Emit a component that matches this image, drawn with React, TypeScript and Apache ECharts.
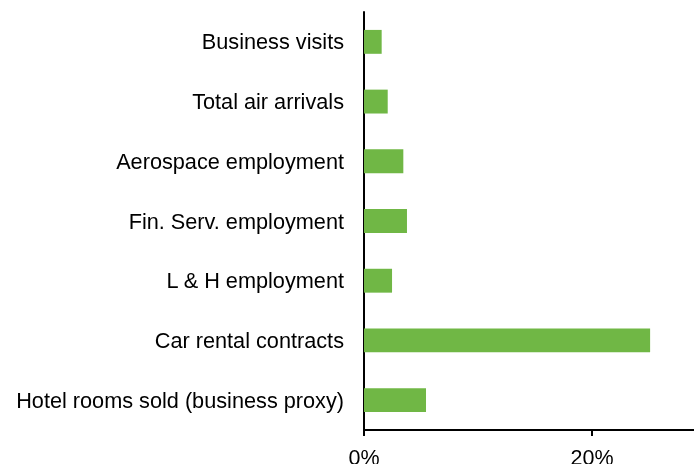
import React, { useEffect, useRef } from "react";
import * as echarts from "echarts";

const categories = [
  "Business visits",
  "Total air arrivals",
  "Aerospace employment",
  "Fin. Serv. employment",
  "L & H employment",
  "Car rental contracts",
  "Hotel rooms sold (business proxy)",
];
const values = [1.55, 2.08, 3.45, 3.77, 2.46, 25.1, 5.44];

export default function App() {
  const ref = useRef<HTMLDivElement>(null);
  useEffect(() => {
    if (!ref.current) return;
    const chart = echarts.init(ref.current, undefined, { renderer: "svg" });
    chart.setOption({
      animation: false,
      grid: {
        left: 364,
        top: 12,
        right: 0,
        bottom: 34,
        containLabel: false,
        outerBoundsMode: "none",
      },
      xAxis: {
        type: "value",
        min: 0,
        max: 28.95,
        interval: 20,
        axisLine: { show: true, lineStyle: { color: "#000", width: 2 } },
        axisTick: { show: true, length: 6, lineStyle: { color: "#000", width: 2 } },
        splitLine: { show: false },
        axisLabel: {
          formatter: (v: number) => (v % 20 === 0 ? v + "%" : ""),
          color: "#000",
          fontFamily: "Liberation Sans, Arial",
          fontSize: 21.5,
          margin: 17,
          showMaxLabel: false,
        },
      },
      yAxis: {
        type: "category",
        data: categories,
        inverse: true,
        axisLine: { show: true, lineStyle: { color: "#000", width: 2 } },
        axisTick: { show: false },
        axisLabel: {
          color: "#000",
          fontFamily: "Liberation Sans, Arial",
          fontSize: 21.7,
          margin: 20,
        },
      },
      series: [
        {
          type: "bar",
          data: values,
          barWidth: "40%",
          itemStyle: { color: "#70B745" },
        },
      ],
    });
    return () => chart.dispose();
  }, []);
  return (
    <div
      ref={ref}
      style={{ position: "fixed", left: 0, top: 0, width: 694, height: 464 }}
    />
  );
}
